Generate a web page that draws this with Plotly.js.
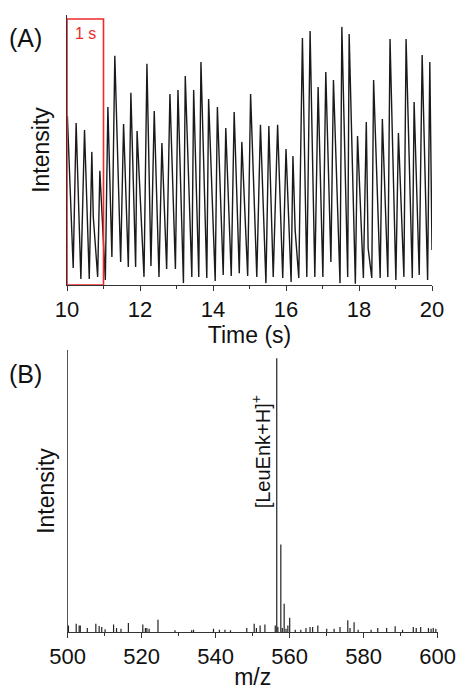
<!DOCTYPE html>
<html>
<head>
<meta charset="utf-8">
<script src="https://cdn.plot.ly/plotly-3.0.1.min.js"></script>
<style>html,body{margin:0;padding:0;background:#fff;}#chart{width:460px;height:690px;}</style>
</head>
<body>
<div id="chart"></div>
<script>
// Panel A: intensity vs time (peaks and troughs)
const timeS = [
  10.01, 10.17, 10.25, 10.38, 10.48, 10.61, 10.68, 10.72, 10.84, 10.90, 11.05,
  11.12, 11.23, 11.31, 11.47, 11.55, 11.68, 11.75, 11.88, 11.92, 12.11,
  12.19, 12.30, 12.39, 12.52, 12.60, 12.73, 12.82, 12.97, 13.04, 13.19,
  13.24, 13.42, 13.47, 13.61, 13.67, 13.83, 13.88, 14.06, 14.12, 14.28,
  14.35, 14.50, 14.58, 14.72, 14.79, 14.95, 15.03, 15.20, 15.30, 15.45,
  15.53, 15.65, 15.77, 15.91, 16.00, 16.14, 16.19, 16.25, 16.35, 16.45, 16.57,
  16.66, 16.79, 16.88, 17.01, 17.09, 17.23, 17.30, 17.48, 17.53, 17.69,
  17.73, 17.90, 17.96, 18.12, 18.20, 18.25, 18.35, 18.40, 18.58, 18.64, 18.79,
  18.85, 19.01, 19.08, 19.23, 19.29, 19.46, 19.51, 19.65, 19.73, 19.88,
  19.94, 20.00
];
const intensityA = [
  62.6, 6.3, 60.0, 2.2, 57.4, 2.2, 49.3, 25.3, 3.0, 42.3, 1.9,
  65.9, 10.4, 84.9, 8.5, 59.6, 6.7, 71.2, 6.7, 57.0, 3.0,
  81.9, 7.0, 64.4, 3.0, 52.6, 5.9, 70.7, 5.9, 72.2, 0.7,
  77.4, 3.0, 72.2, 3.0, 82.6, 2.6, 68.9, 1.5, 65.9, 3.7,
  58.1, 3.3, 64.1, 4.4, 53.0, 3.3, 70.7, 3.0, 59.3, 0.7,
  58.9, 3.0, 59.3, 2.6, 50.4, 1.1, 47.8, 20.4, 2.6, 91.5, 3.0,
  94.1, 3.0, 73.3, 3.0, 78.9, 8.5, 75.9, 0.7, 95.6, 3.0,
  93.0, 0.5, 55.2, 2.6, 60.4, 13.6, 2.6, 75.9, 2.6, 61.5, 3.0,
  91.1, 1.9, 56.3, 3.0, 91.1, 2.6, 67.8, 3.7, 85.2, 1.9,
  82.6, 13.0
];

// Panel B: mass spectrum sticks
const mz = [
  500.2, 502.3, 503.1, 503.4, 505.3, 507.6, 508.5, 509.2, 510.1, 512.4,
  513.2, 514.4, 516.4, 520.3, 521.0, 521.4, 522.0, 524.4, 529.0, 533.5,
  534.0, 539.4, 541.0, 542.5, 544.0, 548.4, 550.4, 551.0, 552.0, 553.3,
  556.1, 556.5, 556.8, 557.6, 558.0, 558.5, 559.0, 559.5, 560.0, 561.5,
  563.0, 564.4, 565.5, 566.2, 567.6, 570.0, 572.0, 573.6, 575.7, 576.3,
  577.4, 578.5, 582.0, 583.8, 586.2, 588.5, 590.5, 593.4, 594.2, 595.4,
  597.5, 598.2, 598.8, 599.5
];
const intensityB = [
  2.4, 3.0, 2.4, 2.4, 1.5, 3.0, 2.2, 1.8, 1.0, 2.7,
  1.5, 1.2, 3.3, 2.7, 1.5, 1.5, 1.2, 4.5, 0.6, 0.6,
  0.8, 1.2, 0.8, 0.8, 0.6, 1.5, 3.0, 1.5, 2.4, 2.7,
  2.4, 100, 1.8, 32, 1.5, 10.3, 1.2, 2.4, 5.2, 0.8,
  0.8, 1.5, 1.8, 1.8, 2.4, 1.2, 1.2, 1.8, 4.3, 1.5,
  3.6, 0.8, 0.8, 1.5, 1.5, 2.1, 0.8, 1.8, 1.5, 1.8,
  1.5, 1.2, 1.5, 1.2
];

const timeTicks = [10, 12, 14, 16, 18, 20];
const mzTicks = [500, 520, 540, 560, 580, 600];

// build stick segments from the spectrum arrays
const stickX = [], stickY = [];
mz.forEach((m, i) => { stickX.push(m, m, null); stickY.push(0, intensityB[i], null); });

const FONT = "'Liberation Sans', Arial, Helvetica, sans-serif";
const axisCol = '#333';

const traces = [
  { x: timeS, y: intensityA, type: 'scatter', mode: 'lines', xaxis: 'x', yaxis: 'y',
    line: { color: '#1a1a1a', width: 1.4 }, hoverinfo: 'skip' },
  { x: stickX, y: stickY, type: 'scatter', mode: 'lines', xaxis: 'x2', yaxis: 'y2',
    line: { color: '#222', width: 1.2 }, hoverinfo: 'skip' }
];

const commonX = {
  ticks: 'outside', ticklen: 5, tickwidth: 1, tickcolor: axisCol,
  showline: true, linecolor: axisCol, linewidth: 1, showgrid: false, zeroline: false,
  tickfont: { size: 22, color: '#111', family: FONT }, tickmode: 'array'
};
const commonY = {
  showticklabels: false, ticks: '', showline: true, linecolor: axisCol, linewidth: 1,
  showgrid: false, zeroline: false
};

const layout = {
  width: 460, height: 690,
  margin: { l: 0, r: 0, t: 0, b: 0 },
  paper_bgcolor: '#fff', plot_bgcolor: '#fff', showlegend: false,
  font: { family: FONT, color: '#111', size: 21 },
  xaxis: Object.assign({}, commonX, {
    domain: [67 / 460, 432 / 460], range: [10, 20], anchor: 'y',
    tickvals: timeTicks, ticktext: timeTicks.map(String),
    minor: { tickmode: 'linear', tick0: 10, dtick: 1, ticks: 'outside', ticklen: 3, tickcolor: axisCol, showgrid: false },
    title: { text: 'Time (s)', font: { size: 23, family: FONT }, standoff: 0 }
  }),
  yaxis: Object.assign({}, commonY, {
    domain: [1 - 285 / 690, 1 - 15 / 690], range: [0, 100], anchor: 'x',
    title: { text: 'Intensity', font: { size: 23, family: FONT }, standoff: 9 }
  }),
  xaxis2: Object.assign({}, commonX, {
    domain: [67.7 / 460, 437.7 / 460], range: [500, 600], anchor: 'y2',
    tickvals: mzTicks, ticktext: mzTicks.map(String),
    minor: { tickmode: 'linear', tick0: 500, dtick: 10, ticks: 'outside', ticklen: 3, tickcolor: axisCol, showgrid: false },
    title: { text: 'm/z', font: { size: 23, family: FONT }, standoff: 0 }
  }),
  yaxis2: Object.assign({}, commonY, {
    domain: [1 - 632 / 690, 1 - 350 / 690], range: [0, 103], anchor: 'x2', linecolor: '#555',
    title: { text: 'Intensity', font: { size: 23, family: FONT }, standoff: 5 }
  }),
  shapes: [
    { type: 'rect', xref: 'x', yref: 'y', x0: 10, x1: 11, y0: 0, y1: 98.5,
      line: { color: '#ee2a2a', width: 1.6 } }
  ],
  annotations: [
    { text: '1 s', xref: 'x', yref: 'y', x: 10.5, y: 93, showarrow: false,
      font: { size: 16, color: '#ee2a2a', family: FONT } },
    { text: '(A)', xref: 'paper', yref: 'paper', x: 25 / 460, y: 1 - 38 / 690, showarrow: false,
      xanchor: 'center', yanchor: 'middle', font: { size: 25, family: FONT, color: '#111' } },
    { text: '(B)', xref: 'paper', yref: 'paper', x: 25 / 460, y: 1 - 374 / 690, showarrow: false,
      xanchor: 'center', yanchor: 'middle', font: { size: 25, family: FONT, color: '#111' } },
    { text: '[LeuEnk+H]<sup>+</sup>', xref: 'x2', yref: 'y2', x: 556.5, y: 65.7, showarrow: false,
      textangle: -90, xanchor: 'right', yanchor: 'middle', xshift: -2,
      font: { size: 20, family: FONT, color: '#111' } }
  ]
};

Plotly.newPlot('chart', traces, layout, { staticPlot: true, displayModeBar: false });
</script>
</body>
</html>
